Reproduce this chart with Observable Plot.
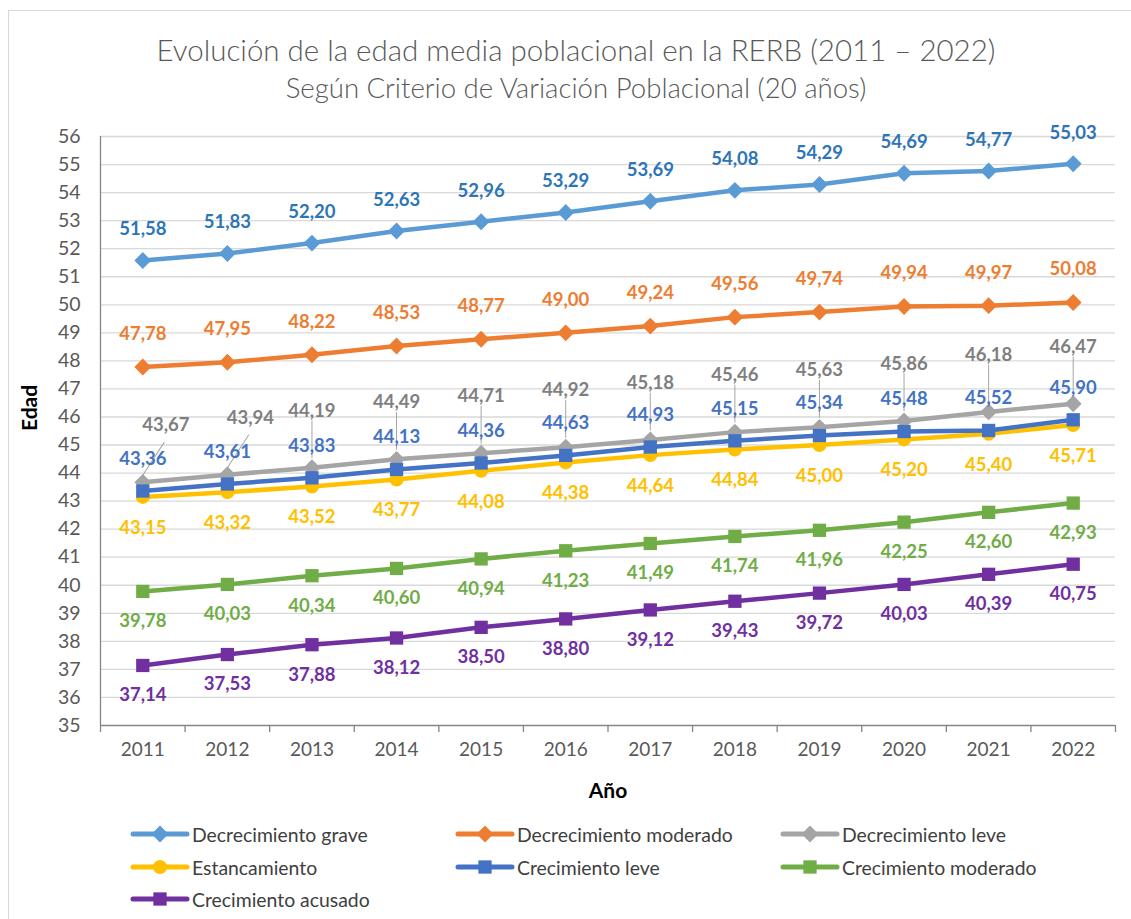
<!DOCTYPE html>
<html>
<head>
<meta charset="utf-8">
<script src="https://cdn.jsdelivr.net/npm/d3@7"></script>
<script src="https://cdn.jsdelivr.net/npm/@observablehq/plot@0.6"></script>
<style>
  html, body { margin: 0; padding: 0; background: #fff; }
  body { width: 1131px; height: 919px; position: relative; overflow: hidden; font-family: Lato, "Open Sans", sans-serif; }
  #border { position: absolute; left: 8px; top: 10px; width: 1140px; height: 940px; border: 1.5px solid #d9d9d9; box-sizing: border-box; }
  #title { position: absolute; left: 21px; width: 1110px; top: 31px; text-align: center; font-size: 29.5px; color: #595959; line-height: 38px; font-weight: 300; }
  #subtitle { position: absolute; left: 21px; width: 1110px; top: 72px; text-align: center; font-size: 27.6px; color: #595959; line-height: 32px; font-weight: 300; }
  #chart { position: absolute; left: 0; top: 110px; }
  .leg { position: absolute; display: flex; align-items: center; font-size: 19.4px; color: #404040; height: 24px; }
  .leg svg { margin-right: 2px; }
</style>
</head>
<body>
<div id="border"></div>
<div id="title">Evolución de la edad media poblacional en la RERB (2011 – 2022)</div>
<div id="subtitle">Según Criterio de Variación Poblacional (20 años)</div>
<div id="chart"></div>
<div id="legend"></div>
<script>
// ---- Data ----
const years = [2011, 2012, 2013, 2014, 2015, 2016, 2017, 2018, 2019, 2020, 2021, 2022];
const seriesNames = ["Decrecimiento grave", "Decrecimiento moderado", "Decrecimiento leve", "Estancamiento", "Crecimiento leve", "Crecimiento moderado", "Crecimiento acusado"];
const decrecimientoGrave    = [51.58, 51.83, 52.20, 52.63, 52.96, 53.29, 53.69, 54.08, 54.29, 54.69, 54.77, 55.03];
const decrecimientoModerado = [47.78, 47.95, 48.22, 48.53, 48.77, 49.00, 49.24, 49.56, 49.74, 49.94, 49.97, 50.08];
const decrecimientoLeve     = [43.67, 43.94, 44.19, 44.49, 44.71, 44.92, 45.18, 45.46, 45.63, 45.86, 46.18, 46.47];
const estancamiento         = [43.15, 43.32, 43.52, 43.77, 44.08, 44.38, 44.64, 44.84, 45.00, 45.20, 45.40, 45.71];
const crecimientoLeve       = [43.36, 43.61, 43.83, 44.13, 44.36, 44.63, 44.93, 45.15, 45.34, 45.48, 45.52, 45.90];
const crecimientoModerado   = [39.78, 40.03, 40.34, 40.60, 40.94, 41.23, 41.49, 41.74, 41.96, 42.25, 42.60, 42.93];
const crecimientoAcusado    = [37.14, 37.53, 37.88, 38.12, 38.50, 38.80, 39.12, 39.43, 39.72, 40.03, 40.39, 40.75];
const yTicks = d3.range(35, 57);
const xTitle = "Año";
const yTitle = "Edad";

// ---- Styles ----
const valuesBySeries = [decrecimientoGrave, decrecimientoModerado, decrecimientoLeve, estancamiento, crecimientoLeve, crecimientoModerado, crecimientoAcusado];
const lineColors  = ["#5B9BD5", "#ED7D31", "#A5A5A5", "#FFC000", "#4472C4", "#70AD47", "#7030A0"];
const labelColors = ["#2E75B6", "#ED7D31", "#7F7F7F", "#FFC000", "#4472C4", "#70AD47", "#7030A0"];
const symbols     = ["diamond2", "diamond2", "diamond2", "circle", "square", "square", "square"];
const symbolR     = [7.6, 7.6, 7.6, 7, 7.5, 7.5, 7.5];
const labelDy     = [-31, -33, -57, 31, -32, 30, 30];

const data = seriesNames.flatMap((s, i) => years.map((y, j) => ({series: s, idx: i, year: y, value: valuesBySeries[i][j]})));
const fmt = v => d3.format(".2f")(v).replace(".", ",");
const font = "Lato, 'Open Sans', sans-serif";

const lineShape = { draw(context, l) { context.moveTo(0, 0); context.lineTo(0, -l); } };

const marks = [
  Plot.ruleY(yTicks.filter(t => t > 35), {y: d => d, stroke: "#d9d9d9", strokeWidth: 1.3}),
  Plot.ruleY([35], {stroke: "#868686", strokeWidth: 1.3}),
  Plot.ruleX([2010.5], {stroke: "#868686", strokeWidth: 1.3}),
  Plot.axisX({ticks: d3.range(2010.5, 2023, 1), tickSize: 7, tickFormat: () => "", stroke: "#868686", strokeWidth: 1.3, label: null}),
  Plot.axisX({ticks: years, tickSize: 0, tickPadding: 17, tickFormat: d => String(d), fontSize: 19, fill: "#595959", label: null}),
  Plot.axisY({ticks: yTicks, tickSize: 0, tickPadding: 20, tickFormat: d => String(d), fontSize: 19.5, fill: "#595959", label: null}),
  Plot.text([xTitle], {frameAnchor: "bottom", dy: 72, fontSize: 21, fontWeight: "bold", fill: "#000"}),
  Plot.text([yTitle], {frameAnchor: "left", dx: -70, rotate: -90, fontSize: 21, fontWeight: "bold", fill: "#000"})
];

seriesNames.forEach((s, i) => {
  const sd = data.filter(d => d.idx === i);
  marks.push(Plot.line(sd, {x: "year", y: "value", stroke: lineColors[i], strokeWidth: 4.5, strokeLinejoin: "round", strokeLinecap: "round"}));
  marks.push(Plot.dot(sd, {x: "year", y: "value", symbol: () => symbols[i], r: symbolR[i], fill: lineColors[i], stroke: "none"}));
});

// leader lines for "Decrecimiento leve" labels
const leveData = data.filter(d => d.idx === 2);
marks.push(Plot.vector(leveData.filter(d => d.year >= 2013), {x: "year", y: "value", length: 37, rotate: 0, anchor: "start", dy: -10, stroke: "#A5A5A5", strokeWidth: 1, shape: lineShape}));
marks.push(Plot.vector(leveData.filter(d => d.year < 2013), {x: "year", y: "value", length: 39, rotate: 33, anchor: "start", dy: -7, stroke: "#A5A5A5", strokeWidth: 1, shape: lineShape}));

seriesNames.forEach((s, i) => {
  const sd = data.filter(d => d.idx === i);
  if (i === 2) {
    marks.push(Plot.text(sd.filter(d => d.year >= 2013), {x: "year", y: "value", text: d => fmt(d.value), dy: labelDy[i], fill: labelColors[i], fontSize: 18.5, fontWeight: "bold", lineAnchor: "middle"}));
    marks.push(Plot.text(sd.filter(d => d.year < 2013), {x: "year", y: "value", text: d => fmt(d.value), dy: labelDy[i], dx: 23, fill: labelColors[i], fontSize: 18.5, fontWeight: "bold", lineAnchor: "middle"}));
  } else {
    marks.push(Plot.text(sd, {x: "year", y: "value", text: d => fmt(d.value), dy: labelDy[i], fill: labelColors[i], fontSize: 18.5, fontWeight: "bold", lineAnchor: "middle"}));
  }
});

const chart = Plot.plot({
  width: 1131,
  height: 700,
  marginTop: 26,
  marginBottom: 85,
  marginLeft: 100,
  marginRight: 16,
  x: {domain: [2010.5, 2022.5], axis: null},
  y: {domain: [35, 56], axis: null},
  style: {fontFamily: font, background: "transparent", overflow: "visible"},
  marks
});
document.getElementById("chart").appendChild(chart);

// ---- Legend ----
const legend = document.getElementById("legend");
const cols = [130, 455, 780];
const rows = [822, 855, 887];
seriesNames.forEach((s, i) => {
  const div = document.createElement("div");
  div.className = "leg";
  div.style.left = cols[i % 3] + "px";
  div.style.top = rows[Math.floor(i / 3)] + "px";
  const sym = d3.symbol().type(symbols[i] === "diamond2" ? d3.symbolDiamond2 : symbols[i] === "circle" ? d3.symbolCircle : d3.symbolSquare).size(Math.PI * symbolR[i] * symbolR[i]);
  div.innerHTML = `<svg width="60" height="24"><line x1="3" y1="12" x2="57" y2="12" stroke="${lineColors[i]}" stroke-width="5" stroke-linecap="round"/><path transform="translate(30,12)" d="${sym()}" fill="${lineColors[i]}"/></svg><span>${s}</span>`;
  legend.appendChild(div);
});
</script>
</body>
</html>
